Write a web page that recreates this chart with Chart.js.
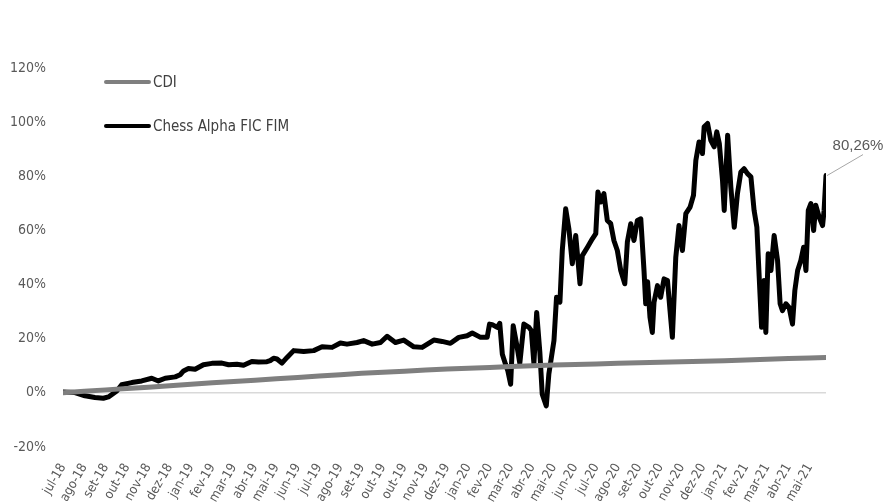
<!DOCTYPE html>
<html>
<head>
<meta charset="utf-8">
<script src="https://cdn.jsdelivr.net/npm/chart.js@4.4.1/dist/chart.umd.min.js"></script>
<style>
  html, body { margin: 0; padding: 0; background: #fff; }
  #wrap { width: 892px; height: 502px; }
</style>
</head>
<body>
<div id="wrap"><canvas id="chart" width="892" height="502"></canvas></div>
<script>
// month labels (one per tick)
const monthLabels = ['jul-18', 'ago-18', 'set-18', 'out-18', 'nov-18', 'dez-18', 'jan-19', 'fev-19', 'mar-19', 'abr-19',
  'mai-19', 'jun-19', 'jul-19', 'ago-19', 'set-19', 'out-19', 'out-19', 'nov-19', 'dez-19', 'jan-20',
  'fev-20', 'mar-20', 'abr-20', 'mai-20', 'jun-20', 'jul-20', 'ago-20', 'set-20', 'out-20', 'nov-20',
  'dez-20', 'jan-21', 'fev-21', 'mar-21', 'abr-21', 'mai-21'];

// CDI accumulated (%), positions in months since jul-18
const cdiX = [0, 1, 2, 3, 4, 5, 6, 7, 8, 9, 10, 11, 12, 13, 14, 15, 16, 17, 18, 19, 20, 21, 22, 23, 24, 25, 26, 27, 28, 29, 30, 31, 32, 33, 34, 35, 35.76];
const cdiY = [0, 0.55, 1.1, 1.6, 2.1, 2.6, 3.2, 3.7, 4.2, 4.7, 5.2, 5.7, 6.2, 6.7, 7.2, 7.6, 8.0, 8.4, 8.8, 9.1, 9.4, 9.7, 10.0, 10.3, 10.5, 10.7, 10.9, 11.1, 11.3, 11.5, 11.7, 11.9, 12.1, 12.4, 12.7, 12.9, 13.1];

// Chess Alpha FIC FIM accumulated (%)
const fundX = [0, 0.56, 1.03, 1.5, 1.89, 2.13, 2.52, 2.75, 3.22, 3.69, 4.16, 4.47, 4.79, 5.26, 5.49, 5.65, 5.88, 6.19, 6.58, 6.98,
  7.45, 7.76, 8.15, 8.46, 8.85, 9.16, 9.56, 9.71, 9.87, 10.03, 10.26, 10.5, 10.81, 11.28, 11.75, 12.14, 12.61, 13.0, 13.31, 13.78,
  14.09, 14.49, 14.88, 15.19, 15.58, 15.97, 16.44, 16.83, 17.38, 17.77, 18.16, 18.55, 18.94, 19.18, 19.57, 19.88, 19.99, 20.12, 20.35, 20.47,
  20.59, 20.74, 20.85, 20.98, 21.1, 21.26, 21.41, 21.6, 21.84, 21.95, 22.07, 22.2, 22.35, 22.46, 22.65, 22.77, 23.01, 23.13, 23.29, 23.4,
  23.56, 23.71, 23.87, 24.03, 24.15, 24.23, 24.34, 24.58, 24.81, 24.97, 25.07, 25.2, 25.35, 25.51, 25.67, 25.82, 25.98, 26.14, 26.33, 26.45,
  26.61, 26.76, 26.92, 27.08, 27.23, 27.31, 27.4, 27.51, 27.62, 27.7, 27.86, 28.01, 28.17, 28.33, 28.45, 28.56, 28.72, 28.87, 29.03, 29.19,
  29.39, 29.55, 29.66, 29.81, 29.97, 30.05, 30.21, 30.36, 30.52, 30.64, 30.76, 30.91, 30.99, 31.15, 31.3, 31.46, 31.61, 31.77, 31.92, 32.08,
  32.24, 32.39, 32.52, 32.63, 32.74, 32.86, 32.94, 33.05, 33.18, 33.33, 33.49, 33.61, 33.72, 33.88, 34.03, 34.19, 34.3, 34.43, 34.58, 34.71,
  34.82, 34.93, 35.05, 35.18, 35.28, 35.44, 35.6, 35.67, 35.76];
const fundY = [0.3, 0.1, -1.1, -1.7, -2.0, -1.5, 0.7, 3.0, 3.8, 4.4, 5.4, 4.4, 5.4, 5.9, 6.7, 8.1, 9.0, 8.7, 10.4, 10.9,
  11.0, 10.4, 10.6, 10.2, 11.6, 11.4, 11.5, 11.9, 12.8, 12.5, 11.0, 13.1, 15.6, 15.3, 15.6, 17.0, 16.8, 18.4, 18.0, 18.6,
  19.3, 18.0, 18.6, 20.9, 18.6, 19.5, 17.0, 16.8, 19.5, 19.0, 18.3, 20.5, 21.1, 22.1, 20.5, 20.5, 25.4, 25.2, 24.2, 25.7,
  14.3, 10.6, 8.1, 3.2, 24.8, 18.0, 10.9, 25.4, 24.2, 23.0, 10.9, 29.7, 14.9, -0.5, -4.8, 6.9, 19.3, 35.3, 33.5, 52.6,
  68.0, 60.6, 47.7, 58.1, 47.7, 40.3, 50.7, 53.8, 56.9, 58.8, 74.2, 70.5, 73.6, 63.7, 62.5, 56.3, 52.6, 45.2, 40.3, 55.7,
  62.5, 56.3, 63.7, 64.3, 45.2, 32.9, 41.0, 28.0, 22.3, 33.5, 39.6, 35.3, 42.1, 41.5, 30.4, 20.5, 50.1, 61.8, 52.6, 66.2,
  68.6, 73.0, 85.9, 92.7, 88.4, 98.3, 99.5, 93.3, 90.9, 96.4, 92.1, 78.5, 67.4, 95.2, 76.0, 61.2, 73.6, 81.6, 82.8, 81.0,
  79.8, 67.4, 61.2, 42.7, 24.2, 41.5, 22.3, 51.4, 45.2, 58.1, 48.9, 32.9, 30.4, 32.9, 31.6, 25.4, 37.8, 45.2, 48.9, 53.8,
  45.2, 67.4, 69.9, 60.0, 69.3, 64.9, 61.8, 67.4, 80.26];

const seriesNames = ['CDI', 'Chess Alpha FIC FIM'];

const axisFont = "'Liberation Sans Narrow', 'DejaVu Sans Condensed', Roboto, sans-serif";

// legend + end label drawn by hand (Excel style)
const extras = {
  id: 'extras',
  afterDraw(chart) {
    const ctx = chart.ctx;
    ctx.save();
    // legend
    const rows = [[seriesNames[0], '#7f7f7f', 82], [seriesNames[1], '#000000', 126]];
    rows.forEach(function(r) {
      ctx.strokeStyle = r[1];
      ctx.lineWidth = 4;
      ctx.lineCap = 'round';
      ctx.beginPath();
      ctx.moveTo(106, r[2]);
      ctx.lineTo(149, r[2]);
      ctx.stroke();
      ctx.fillStyle = '#404040';
      ctx.font = '15px ' + axisFont;
      ctx.textAlign = 'left';
      ctx.textBaseline = 'middle';
      ctx.fillText(r[0], 153, r[2] + 1);
    });
    // label on last point
    const meta = chart.getDatasetMeta(1);
    const last = meta.data[meta.data.length - 1];
    const v = fundY[fundY.length - 1];
    ctx.strokeStyle = '#a6a6a6';
    ctx.lineWidth = 1;
    ctx.lineCap = 'butt';
    ctx.beginPath();
    ctx.moveTo(last.x + 1, last.y);
    ctx.lineTo(last.x + 37, last.y - 21);
    ctx.stroke();
    ctx.fillStyle = '#595959';
    ctx.font = "15px 'Liberation Sans', sans-serif";
    ctx.textAlign = 'center';
    ctx.textBaseline = 'alphabetic';
    ctx.fillText(v.toFixed(2).replace('.', ',') + '%', last.x + 32, last.y - 26);
    ctx.restore();
  }
};

const chart = new Chart(document.getElementById('chart').getContext('2d'), {
  type: 'line',
  data: {
    datasets: [{
      label: seriesNames[0],
      data: cdiX.map((x, i) => ({ x: x, y: cdiY[i] })),
      borderColor: '#7f7f7f',
      borderWidth: 5,
      pointRadius: 0,
      borderCapStyle: 'round',
      borderJoinStyle: 'round'
    }, {
      label: seriesNames[1],
      data: fundX.map((x, i) => ({ x: x, y: fundY[i] })),
      borderColor: '#000000',
      borderWidth: 5,
      pointRadius: 0,
      borderCapStyle: 'round',
      borderJoinStyle: 'round'
    }]
  },
  options: {
    responsive: false,
    animation: false,
    devicePixelRatio: 1,
    layout: { padding: { top: 68, right: 66, left: 0, bottom: 0 } },
    plugins: { legend: { display: false }, tooltip: { enabled: false } },
    scales: {
      x: {
        type: 'linear',
        min: 0,
        max: 35.76,
        afterBuildTicks: function(scale) {
          scale.ticks = monthLabels.map((l, i) => ({ value: i }));
        },
        afterFit: function(scale) { scale.height = 55; },
        grid: { display: false },
        border: { display: false },
        ticks: {
          autoSkip: false,
          minRotation: 60,
          maxRotation: 60,
          padding: 6,
          color: '#595959',
          font: { family: axisFont, size: 13 },
          callback: function(v) { return monthLabels[v]; }
        }
      },
      y: {
        min: -20,
        max: 120,
        afterFit: function(scale) { scale.width = 63; },
        grid: {
          drawTicks: false,
          color: function(c) { return c.tick && c.tick.value === 0 ? '#d9d9d9' : 'rgba(0,0,0,0)'; },
          lineWidth: 1.5
        },
        border: { display: false },
        ticks: {
          stepSize: 20,
          padding: 17,
          color: '#595959',
          font: { family: axisFont, size: 14 },
          callback: function(v) { return v + '%'; }
        }
      }
    }
  },
  plugins: [extras]
});
</script>
</body>
</html>
